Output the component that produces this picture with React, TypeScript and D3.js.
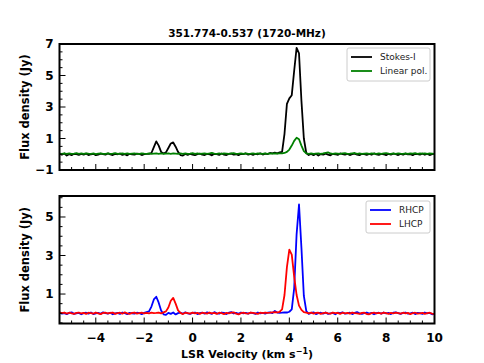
// App.tsx - 1720-MHz OH spectrum of 351.774-0.537 (Stokes-I / linear pol + RHCP / LHCP)
import React, { useEffect, useRef } from 'react';
import * as d3 from 'd3';

// --- Data: channel grid starts at -5.5 km/s, 0.1 km/s per channel ---
const V_START = -5.5;
const V_STEP = 0.1;

const stokesI = [
  0.02, -0.03, 0.05, -0.08, 0.00, -0.06, 0.03, 0.01, -0.04, 0.02,
  -0.02, 0.04, -0.05, 0.00, 0.03, -0.06, -0.02, 0.04, 0.01, -0.03,
  0.05, -0.01, -0.05, 0.02, 0.00, 0.04, -0.04, 0.01, -0.07, 0.03,
  0.00, -0.03, 0.04, 0.02, -0.05, 0.01, 0.03, 0.02, 0.08, 0.45,
  0.82, 0.55, 0.15, 0.05, 0.12, 0.40, 0.68, 0.75, 0.48, 0.15,
  -0.05, -0.08, 0.02, -0.04, 0.03, -0.02, -0.06, 0.01, 0.04, -0.03,
  -0.05, 0.02, 0.00, -0.07, 0.03, 0.01, -0.04, 0.05, -0.02, -0.05,
  0.02, 0.04, -0.03, 0.00, -0.06, 0.03, 0.01, 0.05, -0.02, 0.02,
  -0.04, 0.03, 0.00, 0.06, -0.02, 0.04, 0.01, 0.08, 0.05, 0.10,
  0.06, 0.12, 0.15, 1.30, 3.20, 3.55, 3.75, 5.30, 6.75, 6.40,
  3.40, 1.00, 0.08, -0.05, 0.02, -0.06, 0.03, -0.08, 0.01, -0.03,
  0.04, -0.02, -0.07, 0.03, 0.00, -0.04, 0.05, 0.01, -0.03, 0.02,
  -0.05, 0.00, 0.04, -0.02, -0.06, 0.03, 0.01, -0.04, 0.02, -0.03,
  0.05, -0.01, -0.04, 0.02, 0.00, -0.06, 0.03, -0.02, 0.04, 0.01,
  -0.05, 0.02, -0.03, 0.04, -0.01, 0.00, -0.06, 0.03, 0.01, -0.02,
  0.04, -0.03, 0.02, -0.05, 0.01, 0.03,
];

const linearPol = [
  0.04, 0.02, 0.05, 0.03, 0.06, 0.02, 0.04, 0.07, 0.03, 0.05,
  0.02, 0.06, 0.04, 0.03, 0.05, 0.01, 0.04, 0.06, 0.03, 0.02,
  0.05, 0.03, 0.04, 0.07, 0.02, 0.04, 0.05, 0.03, 0.06, 0.02,
  0.04, 0.05, 0.03, 0.02, 0.06, 0.04, 0.03, 0.05, 0.02, 0.04,
  0.06, 0.03, 0.05, 0.02, 0.04, 0.06, 0.03, 0.05, 0.04, 0.02,
  0.05, 0.03, 0.06, 0.02, 0.04, 0.07, 0.03, 0.05, 0.02, 0.04,
  0.06, 0.03, 0.05, 0.08, 0.04, 0.02, 0.05, 0.03, 0.06, 0.04,
  0.02, 0.05, 0.07, 0.03, 0.04, 0.06, 0.02, 0.05, 0.03, 0.04,
  0.06, 0.03, 0.05, 0.04, 0.02, 0.05, 0.03, 0.06, 0.04, 0.05,
  0.04, 0.06, 0.05, 0.08, 0.15, 0.30, 0.55, 0.85, 1.05, 0.95,
  0.55, 0.20, 0.06, 0.03, 0.05, 0.02, 0.04, 0.06, 0.03, 0.05,
  0.09, 0.12, 0.05, 0.03, 0.06, 0.04, 0.02, 0.05, 0.07, 0.03,
  0.04, 0.06, 0.08, 0.03, 0.05, 0.02, 0.04, 0.06, 0.03, 0.05,
  0.04, 0.02, 0.06, 0.03, 0.05, 0.07, 0.04, 0.02, 0.05, 0.03,
  0.06, 0.04, 0.03, 0.05, 0.02, 0.06, 0.04, 0.07, 0.03, 0.05,
  0.04, 0.06, 0.02, 0.05, 0.04, 0.03,
];

const rhcp = [
  0.03, -0.02, 0.01, -0.04, 0.02, 0.05, -0.03, 0.00, 0.02, -0.05,
  0.01, 0.03, -0.02, 0.04, -0.04, 0.00, 0.02, -0.03, 0.05, 0.01,
  -0.02, 0.03, -0.05, 0.00, 0.02, -0.03, 0.04, 0.01, -0.04, 0.02,
  0.00, -0.02, 0.03, 0.01, -0.04, 0.02, 0.06, 0.10, 0.35, 0.72,
  0.86, 0.55, 0.15, -0.05, -0.08, 0.02, -0.03, 0.04, -0.06, 0.01,
  0.03, -0.02, 0.05, 0.00, -0.03, 0.02, 0.04, -0.04, 0.01, 0.03,
  -0.02, 0.05, 0.01, -0.03, 0.06, 0.00, -0.02, 0.04, 0.02, -0.04,
  0.03, 0.06, -0.01, 0.02, -0.03, 0.04, 0.00, 0.02, -0.02, 0.03,
  0.01, -0.03, 0.04, 0.00, 0.02, -0.02, 0.03, 0.05, 0.01, 0.12,
  0.04, 0.02, 0.03, 0.05, 0.04, 0.08, 0.20, 1.30, 4.10, 5.65,
  3.40, 0.90, 0.12, -0.03, 0.02, 0.05, -0.04, 0.01, 0.03, -0.02,
  0.04, -0.03, 0.00, 0.02, -0.05, 0.03, 0.01, 0.05, -0.02, 0.00,
  0.03, -0.04, 0.02, 0.06, 0.00, -0.03, 0.01, 0.04, -0.02, 0.02,
  -0.05, 0.01, 0.03, -0.02, 0.04, 0.00, 0.02, -0.04, 0.03, 0.05,
  0.01, -0.03, 0.02, 0.04, -0.02, 0.00, 0.03, -0.04, 0.02, 0.01,
  -0.03, 0.04, 0.00, 0.02, -0.05, -0.02,
];

const lhcp = [
  0.05, 0.01, 0.04, -0.02, 0.03, 0.00, -0.03, 0.02, 0.04, -0.01,
  0.02, -0.03, 0.03, 0.01, -0.02, 0.04, 0.00, -0.04, 0.02, 0.03,
  -0.01, 0.02, 0.04, -0.03, 0.01, 0.03, -0.02, 0.05, 0.00, -0.03,
  0.02, 0.04, -0.02, 0.01, 0.03, -0.01, 0.02, 0.00, 0.03, 0.01,
  0.02, 0.04, 0.00, 0.05, 0.10, 0.30, 0.65, 0.80, 0.50, 0.15,
  0.02, -0.04, 0.03, 0.01, -0.02, 0.04, 0.00, 0.02, -0.03, 0.03,
  0.01, -0.02, 0.04, 0.00, 0.02, -0.03, 0.03, 0.01, -0.04, 0.02,
  0.00, 0.03, 0.05, -0.02, -0.06, 0.01, 0.03, 0.00, -0.02, 0.04,
  0.02, 0.00, -0.03, 0.03, 0.01, 0.04, 0.02, 0.03, 0.05, 0.06,
  0.05, 0.08, 0.20, 0.95, 2.40, 3.30, 3.05, 1.90, 0.95, 0.40,
  0.18, 0.06, 0.03, 0.00, 0.04, -0.02, 0.02, 0.03, -0.03, 0.01,
  0.03, 0.00, -0.02, 0.04, 0.01, 0.02, -0.03, 0.03, 0.00, 0.02,
  -0.02, 0.04, 0.01, 0.00, -0.03, 0.02, 0.03, -0.04, -0.05, 0.01,
  0.03, 0.00, 0.02, -0.02, 0.04, 0.01, -0.03, 0.02, 0.00, 0.03,
  0.01, -0.02, 0.03, 0.00, 0.02, -0.04, 0.01, 0.03, -0.02, 0.00,
  0.02, -0.03, 0.01, 0.03, -0.02, -0.04,
];

const xTicks = [-4, -2, 0, 2, 4, 6, 8, 10];
const topYTicks = [-1, 1, 3, 5, 7];
const bottomYTicks = [1, 3, 5];
const topLegend = ['Stokes-I', 'Linear pol.'];
const bottomLegend = ['RHCP', 'LHCP'];

// --- Layout ---
const W = 484, H = 363;
const X0 = 59.5, X1 = 434.5;
const TOP_PANEL = { y0: 44, y1: 170, domain: [-1, 7] };
const BOT_PANEL = { y0: 196, y1: 323.5, domain: [-0.53, 6.09] };
const FONT = '"DejaVu Sans", sans-serif';

function drawPanel(g, xScale, panel, yTicks, series, legend, legendBox, showXLabels) {
  const yScale = d3.scaleLinear().domain(panel.domain).range([panel.y1, panel.y0]);
  const clipId = 'clip-' + panel.y0;
  g.append('clipPath').attr('id', clipId)
    .append('rect').attr('x', X0).attr('y', panel.y0).attr('width', X1 - X0).attr('height', panel.y1 - panel.y0);

  // data lines
  const plot = g.append('g').attr('clip-path', `url(#${clipId})`);
  series.forEach(s => {
    const line = d3.line().x((d, i) => xScale(V_START + i * V_STEP)).y(d => yScale(d));
    plot.append('path').attr('d', line(s.values)).attr('fill', 'none')
      .attr('stroke', s.color).attr('stroke-width', 1.8).attr('stroke-linejoin', 'round');
  });

  // x ticks (inward): major every 2, minor every 0.5
  const xMinor = d3.range(-5.5, 10.001, 0.5).filter(v => !xTicks.includes(v));
  xTicks.forEach(v => g.append('line').attr('x1', xScale(v)).attr('x2', xScale(v))
    .attr('y1', panel.y1).attr('y2', panel.y1 - 6).attr('stroke', '#000').attr('stroke-width', 1));
  xMinor.forEach(v => g.append('line').attr('x1', xScale(v)).attr('x2', xScale(v))
    .attr('y1', panel.y1).attr('y2', panel.y1 - 3).attr('stroke', '#000').attr('stroke-width', 1));

  // y ticks (inward): major labelled, minor every 0.5
  const [lo, hi] = panel.domain;
  const yMinor = d3.range(Math.ceil(lo * 2) / 2, hi + 0.001, 0.5).filter(v => !yTicks.includes(v));
  yTicks.forEach(v => {
    g.append('line').attr('x1', X0).attr('x2', X0 + 6).attr('y1', yScale(v)).attr('y2', yScale(v))
      .attr('stroke', '#000').attr('stroke-width', 1);
    g.append('text').attr('x', X0 - 6).attr('y', yScale(v)).attr('dy', '0.36em')
      .attr('text-anchor', 'end').attr('font-family', FONT).attr('font-weight', 'bold').attr('font-size', 12)
      .text(v < 0 ? '\u2212' + Math.abs(v) : String(v));
  });
  yMinor.forEach(v => g.append('line').attr('x1', X0).attr('x2', X0 + 3).attr('y1', yScale(v)).attr('y2', yScale(v))
    .attr('stroke', '#000').attr('stroke-width', 1));

  if (showXLabels) {
    xTicks.forEach(v => g.append('text').attr('x', xScale(v)).attr('y', panel.y1 + 18)
      .attr('text-anchor', 'middle').attr('font-family', FONT).attr('font-weight', 'bold').attr('font-size', 12)
      .text(v < 0 ? '\u2212' + Math.abs(v) : String(v)));
  }

  // frame
  g.append('rect').attr('x', X0).attr('y', panel.y0).attr('width', X1 - X0).attr('height', panel.y1 - panel.y0)
    .attr('fill', 'none').attr('stroke', '#000').attr('stroke-width', 2);

  // y label
  g.append('text').attr('transform', `translate(25,${(panel.y0 + panel.y1) / 2}) rotate(-90)`)
    .attr('text-anchor', 'middle').attr('dy', '0.35em').attr('font-family', FONT).attr('font-weight', 'bold')
    .attr('font-size', 11.5).text('Flux density (Jy)');

  // legend
  const lg = g.append('g');
  lg.append('rect').attr('x', legendBox.x).attr('y', legendBox.y).attr('width', legendBox.w).attr('height', legendBox.h)
    .attr('rx', 2).attr('fill', 'white').attr('fill-opacity', 0.85).attr('stroke', '#ccc').attr('stroke-width', 1);
  legend.forEach((name, i) => {
    const yy = legendBox.y + 9 + i * 14;
    lg.append('line').attr('x1', legendBox.x + 4).attr('x2', legendBox.x + 25).attr('y1', yy).attr('y2', yy)
      .attr('stroke', series[i].color).attr('stroke-width', 1.8);
    lg.append('text').attr('x', legendBox.x + 33).attr('y', yy).attr('dy', '0.35em')
      .attr('font-family', FONT).attr('font-size', 9).attr('fill', '#222').text(name);
  });
}

// --- Main Component ---
export default function App() {
  const svgRef = useRef(null);

  useEffect(() => {
    const svg = d3.select(svgRef.current);
    svg.selectAll('*').remove();
    const xScale = d3.scaleLinear().domain([-5.5, 10]).range([X0, X1]);

    svg.append('text').attr('x', 247).attr('y', 37).attr('text-anchor', 'middle')
      .attr('font-family', FONT).attr('font-weight', 'bold').attr('font-size', 10.5)
      .text('351.774-0.537 (1720-MHz)');

    drawPanel(svg.append('g'), xScale, TOP_PANEL, topYTicks,
      [{ values: stokesI, color: '#000000' }, { values: linearPol, color: '#008000' }],
      topLegend, { x: 347, y: 48, w: 83, h: 33 }, false);

    drawPanel(svg.append('g'), xScale, BOT_PANEL, bottomYTicks,
      [{ values: rhcp, color: '#0000ff' }, { values: lhcp, color: '#ff0000' }],
      bottomLegend, { x: 366, y: 201, w: 64, h: 32 }, true);

    // x label
    const xl = svg.append('text').attr('x', 247).attr('y', 358).attr('text-anchor', 'middle')
      .attr('font-family', FONT).attr('font-weight', 'bold').attr('font-size', 11);
    xl.append('tspan').text('LSR Velocity (km s');
    xl.append('tspan').attr('dy', -4).attr('font-size', 8).text('\u22121');
    xl.append('tspan').attr('dy', 4).text(')');
  }, []);

  return (
    <svg ref={svgRef} width={W} height={H}
      style={{ position: 'absolute', left: 0, top: 0, background: 'white' }} />
  );
}
